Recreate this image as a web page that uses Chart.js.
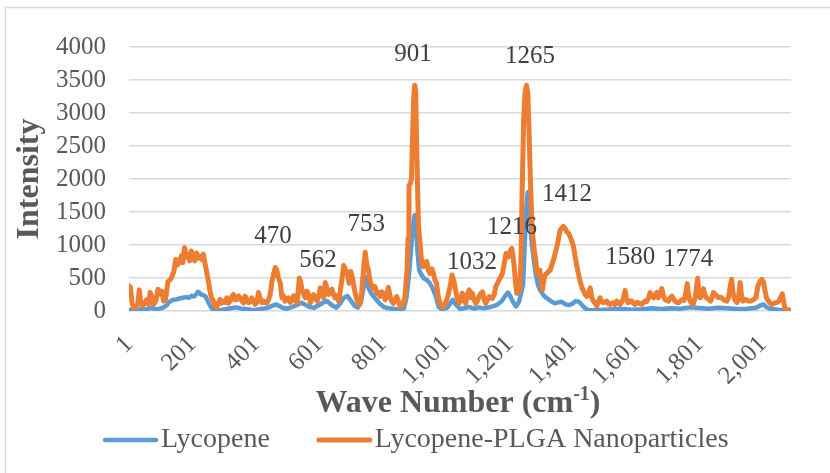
<!DOCTYPE html>
<html>
<head>
<meta charset="utf-8">
<script src="https://cdn.jsdelivr.net/npm/chart.js@4.4.1/dist/chart.umd.min.js"></script>
<style>
  html, body { margin: 0; padding: 0; background: #ffffff; }
  canvas { display: block; }
</style>
</head>
<body>
<canvas id="raman" width="830" height="473"></canvas>
<script>
// Category index on the x axis (point number along the spectrum)
const xTickValues = [1, 201, 401, 601, 801, 1001, 1201, 1401, 1601, 1801, 2001];
const yTickStep = 500;

const seriesNames = ['Lycopene', 'Lycopene-PLGA Nanoparticles'];

// Lycopene spectrum: point index and intensity
const lycoIdx = [1,10,20,30,40,55,70,85,100,112,120,126,132,140,150,160,170,180,190,198,206,212,218,222,228,235,242,249,256,262,270,280,295,310,325,340,355,370,385,400,415,430,445,455,465,475,485,500,515,530,545,555,570,585,600,612,625,640,655,668,678,690,700,712,722,732,740,746,752,758,766,776,790,805,820,840,855,868,876,883,890,896,902,906,911,916,922,930,940,950,960,970,978,990,1005,1015,1022,1030,1045,1060,1075,1090,1105,1120,1140,1160,1175,1188,1196,1203,1212,1222,1232,1244,1250,1255,1259,1264,1270,1277,1284,1292,1300,1310,1320,1332,1344,1356,1366,1378,1388,1400,1410,1420,1430,1440,1450,1470,1500,1530,1560,1590,1620,1650,1680,1710,1740,1770,1800,1830,1860,1890,1920,1950,1980,1995,2003,2012,2025,2050,2070,2089];
const lycoIntensity = [20,15,30,10,40,20,50,25,40,60,90,130,150,170,175,190,200,210,200,230,220,250,290,280,250,240,220,150,90,40,10,0,20,30,45,55,35,30,20,15,30,40,60,85,100,75,50,35,60,90,125,100,60,50,90,125,150,90,50,120,200,225,160,80,50,120,330,520,420,330,260,200,120,60,40,30,15,40,200,500,900,1250,1450,1300,900,620,560,500,470,420,330,200,60,20,50,120,170,110,30,45,60,35,55,40,60,90,140,230,280,230,140,70,150,400,1100,1600,1800,1500,1100,800,560,380,300,230,190,150,115,130,140,100,90,110,150,140,90,40,15,10,20,25,30,20,25,40,30,40,35,55,45,35,50,40,30,35,50,90,100,60,30,20,15,10];

// Lycopene-PLGA nanoparticle spectrum: point index and intensity
const plgaIdx = [1,5,10,16,22,28,33,38,44,50,56,62,67,72,78,85,92,98,104,110,116,123,130,136,142,148,154,160,166,170,176,181,187,192,197,203,208,213,219,224,230,235,241,246,252,256,261,267,272,277,282,288,293,298,304,309,314,320,325,330,336,341,346,351,357,362,367,372,378,383,388,393,399,404,409,415,420,425,430,436,441,446,451,457,462,467,472,478,483,488,493,499,504,509,514,520,525,531,538,543,546,552,557,562,567,573,578,583,588,594,599,604,610,615,620,625,630,636,641,646,651,656,662,667,673,678,684,690,695,700,706,712,718,724,730,735,741,746,751,756,762,767,772,777,782,788,793,798,803,809,814,819,824,829,835,840,845,851,856,861,866,871,875,878,881,884,888,892,895,899,902,905,908,911,914,919,923,929,934,940,945,950,956,961,966,971,977,982,987,993,998,1004,1009,1014,1020,1026,1031,1036,1042,1047,1052,1058,1063,1068,1074,1079,1084,1089,1095,1100,1105,1110,1116,1121,1126,1132,1137,1142,1147,1153,1158,1163,1168,1174,1179,1184,1190,1195,1198,1203,1208,1212,1216,1220,1224,1229,1233,1237,1241,1246,1250,1255,1259,1263,1267,1272,1278,1284,1288,1293,1297,1301,1305,1308,1312,1316,1320,1324,1330,1335,1340,1345,1351,1356,1361,1366,1371,1377,1382,1387,1392,1398,1403,1408,1413,1419,1424,1430,1435,1440,1445,1450,1456,1461,1466,1471,1477,1482,1487,1492,1498,1503,1508,1513,1519,1524,1529,1534,1540,1545,1550,1556,1561,1566,1570,1575,1582,1587,1592,1598,1603,1608,1613,1619,1624,1629,1634,1640,1645,1650,1656,1661,1666,1671,1677,1682,1686,1691,1698,1703,1708,1714,1719,1724,1729,1735,1740,1746,1752,1757,1762,1766,1771,1776,1781,1787,1792,1795,1798,1803,1808,1813,1817,1822,1829,1835,1840,1845,1850,1856,1861,1866,1871,1876,1882,1887,1892,1897,1902,1906,1910,1915,1919,1924,1929,1933,1937,1941,1946,1951,1956,1961,1966,1972,1979,1985,1992,1998,2003,2008,2012,2018,2024,2029,2034,2040,2046,2051,2056,2062,2066,2071,2076,2082,2089];
const plgaIntensity = [380,360,120,50,60,100,320,120,80,120,170,100,280,220,100,150,330,260,300,150,180,440,470,520,600,780,700,760,840,730,960,820,860,760,910,800,760,880,800,830,780,860,700,580,420,300,200,150,80,50,120,175,120,150,130,200,120,150,220,250,170,175,230,200,150,120,225,180,125,140,200,150,100,130,280,180,125,150,125,120,175,250,430,560,660,620,500,420,200,230,150,190,200,130,150,230,175,120,500,420,330,250,200,300,250,125,180,250,200,150,220,350,300,200,430,350,250,300,330,250,200,230,150,300,500,690,620,560,420,600,500,320,200,100,130,300,650,890,700,620,430,380,340,370,270,280,220,290,270,170,220,360,230,150,115,160,220,150,65,90,115,200,450,620,1100,1900,1930,2000,2600,3250,3420,3350,2600,1900,1280,1020,800,670,720,750,620,570,640,570,470,420,200,115,80,65,115,180,270,380,545,450,320,200,115,180,270,150,115,250,320,200,270,180,115,150,220,260,290,180,115,170,220,200,190,250,370,420,470,520,570,700,870,840,820,900,950,850,670,450,270,280,320,700,1800,2900,3300,3420,3300,2700,2000,1300,975,780,570,600,620,450,320,420,520,560,570,600,620,700,770,870,975,1100,1230,1250,1280,1250,1200,1180,1130,1060,980,830,700,555,450,350,300,250,220,260,350,200,150,120,75,150,200,140,125,140,150,110,100,120,125,100,150,120,100,140,200,310,200,125,150,150,120,100,130,125,110,100,130,150,140,200,280,220,200,250,280,200,250,340,250,175,160,150,200,225,180,150,130,125,150,175,160,250,415,250,150,120,100,200,380,495,300,200,250,340,250,200,180,150,200,280,250,225,200,210,200,175,160,150,200,350,480,300,200,150,130,200,430,250,150,160,175,160,150,150,160,175,200,380,450,480,430,300,200,150,120,100,110,125,130,150,200,260,150,25,25,20];

// Peak annotations: wave number text and where it sits (index, intensity)
const peakText = ['470', '562', '753', '901', '1032', '1216', '1265', '1412', '1580', '1774'];
const peakTextIdx = [455, 597, 749, 897, 1083, 1209, 1266, 1383, 1582, 1765];
const peakTextLevel = [1136, 773, 1318, 3894, 742, 1273, 3864, 1773, 818, 788];

const FONT = "'Liberation Serif', 'Times New Roman', serif";
const AXIS_GREY = '#595959';
const GRID_GREY = '#d9d9d9';
const BLUE = '#5B9BD5';
const ORANGE = '#ED7D31';

function pairs(xs, ys) {
  return xs.map((x, i) => ({ x: x, y: ys[i] }));
}

// White page with the light chart frame
const framePlugin = {
  id: 'frame',
  beforeDraw(chart) {
    const c = chart.ctx;
    c.save();
    c.fillStyle = '#ffffff';
    c.fillRect(0, 0, chart.width, chart.height);
    c.strokeStyle = GRID_GREY;
    c.lineWidth = 1.5;
    c.strokeRect(5.5, 7.5, chart.width + 10, chart.height + 10);
    c.restore();
  }
};

// Wave number labels above the peaks
const peakLabelPlugin = {
  id: 'peakLabels',
  afterDatasetsDraw(chart) {
    const c = chart.ctx;
    const xs = chart.scales.x, ys = chart.scales.y;
    c.save();
    c.font = '25px ' + FONT;
    c.fillStyle = '#404040';
    c.textAlign = 'center';
    c.textBaseline = 'middle';
    peakText.forEach((t, i) => {
      c.fillText(t, xs.getPixelForValue(peakTextIdx[i]), ys.getPixelForValue(peakTextLevel[i]));
    });
    c.restore();
  }
};

// X axis title with the superscript unit, and the line legend under it
const bottomTextPlugin = {
  id: 'bottomText',
  afterDraw(chart) {
    const c = chart.ctx;
    c.save();
    c.fillStyle = AXIS_GREY;
    c.textBaseline = 'alphabetic';
    const big = 'bold 32px ' + FONT, small = 'bold 20px ' + FONT;
    const p1 = 'Wave Number (cm', p2 = '-1', p3 = ')';
    c.font = big; const w1 = c.measureText(p1).width, w3 = c.measureText(p3).width;
    c.font = small; const w2 = c.measureText(p2).width;
    const centre = 458, base = 412;
    let x = centre - (w1 + w2 + w3) / 2;
    c.textAlign = 'left';
    c.font = big; c.fillText(p1, x, base); x += w1;
    c.font = small; c.fillText(p2, x, base - 12); x += w2;
    c.font = big; c.fillText(p3, x, base);

    // legend
    const ly = 440;
    let lx = 103;
    c.font = '28px ' + FONT;
    c.textBaseline = 'middle';
    chart.data.datasets.forEach((ds) => {
      c.strokeStyle = ds.borderColor;
      c.lineWidth = ds.borderWidth;
      c.lineCap = 'round';
      c.beginPath();
      c.moveTo(lx + 2, ly);
      c.lineTo(lx + 53, ly);
      c.stroke();
      c.fillStyle = AXIS_GREY;
      c.fillText(ds.label, lx + 58, ly);
      lx += 58 + c.measureText(ds.label).width + 47;
    });
    c.restore();
  }
};

new Chart(document.getElementById('raman'), {
  type: 'line',
  data: {
    datasets: [
      {
        label: seriesNames[0],
        data: pairs(lycoIdx, lycoIntensity),
        borderColor: BLUE,
        borderWidth: 4.5,
        pointRadius: 0,
        tension: 0,
        borderJoinStyle: 'round',
        borderCapStyle: 'round',
        order: 2
      },
      {
        label: seriesNames[1],
        data: pairs(plgaIdx, plgaIntensity),
        borderColor: ORANGE,
        borderWidth: 5,
        pointRadius: 0,
        tension: 0,
        borderJoinStyle: 'round',
        borderCapStyle: 'round',
        order: 1
      }
    ]
  },
  options: {
    responsive: false,
    animation: false,
    events: [],
    layout: { padding: { left: 7, right: 39, top: 47, bottom: 0 } },
    scales: {
      x: {
        type: 'linear',
        min: 0.5,
        max: 2089.5,
        afterBuildTicks(scale) {
          scale.ticks = xTickValues.map(v => ({ value: v }));
        },
        afterFit(scale) { scale.height = 162; },
        grid: { display: false, drawTicks: false },
        border: { display: false },
        ticks: {
          autoSkip: false,
          minRotation: 45,
          maxRotation: 45,
          padding: 19,
          color: AXIS_GREY,
          font: { family: FONT, size: 25 },
          callback: (v) => Number(v).toLocaleString('en-US')
        }
      },
      y: {
        min: 0,
        max: 4000,
        afterFit(scale) { scale.width = 122; },
        grid: { color: GRID_GREY, lineWidth: 1.5, drawTicks: false },
        border: { display: false },
        ticks: {
          stepSize: yTickStep,
          padding: 23,
          color: AXIS_GREY,
          font: { family: FONT, size: 25 },
          callback: (v) => String(v)
        },
        title: {
          display: true,
          text: 'Intensity',
          color: AXIS_GREY,
          font: { family: FONT, size: 32, weight: 'bold' },
          padding: { top: 4, bottom: 4 }
        }
      }
    },
    plugins: {
      legend: { display: false },
      tooltip: { enabled: false }
    }
  },
  plugins: [framePlugin, peakLabelPlugin, bottomTextPlugin]
});
</script>
</body>
</html>
